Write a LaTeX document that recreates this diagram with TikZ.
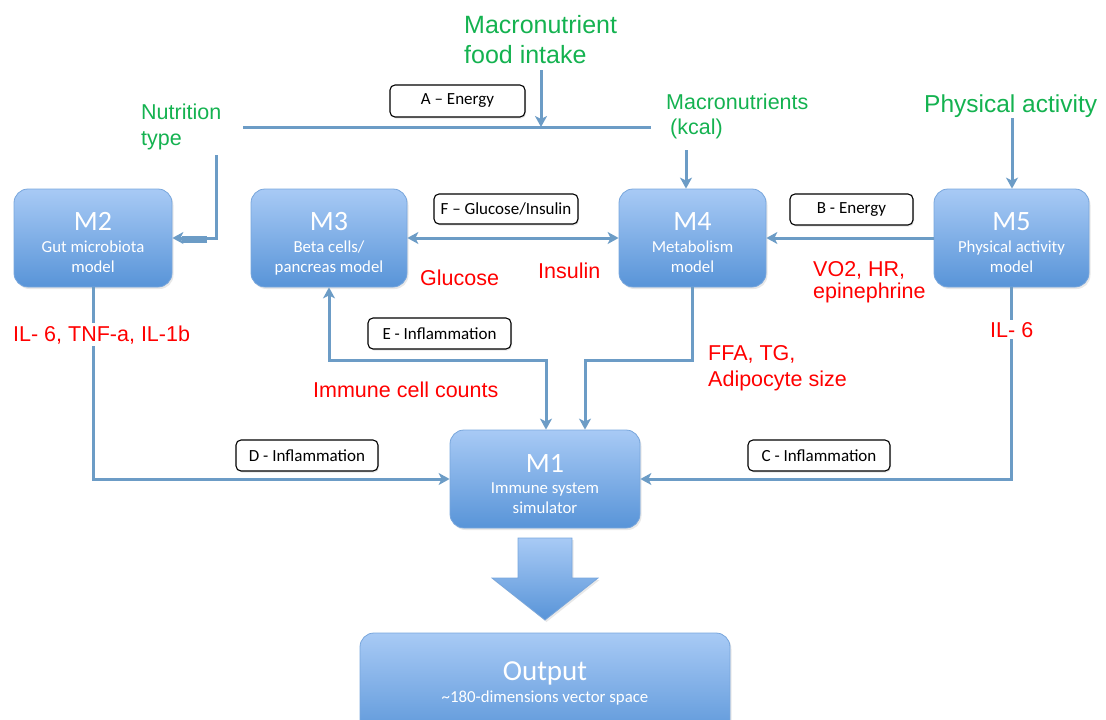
\documentclass[tikz,border=0pt]{standalone}
\usepackage{fontspec}
\setmainfont{Liberation Sans}
\newfontfamily\calfont{Carlito}
\usetikzlibrary{arrows.meta,shadows}
\definecolor{boxtop}{RGB}{168,202,245}
\definecolor{boxbot}{RGB}{88,148,216}
\definecolor{boxedge}{RGB}{120,166,220}
\definecolor{conn}{RGB}{108,156,198}
\definecolor{grn}{RGB}{20,178,80}
\definecolor{rd}{RGB}{255,0,0}
\begin{document}
\begin{tikzpicture}[x=1pt,y=-1pt,
  mbox/.style={rounded corners=14pt, top color=boxtop, bottom color=boxbot, draw=boxedge, line width=0.8pt, inner sep=0pt,
    drop shadow={opacity=0.18, shadow xshift=1.5pt, shadow yshift=-2pt}},
  ttl/.style={text=white, font=\calfont\fontsize{28}{30}\selectfont, inner sep=0pt, anchor=base},
  sub/.style={text=white, font=\calfont\fontsize{16.8}{20}\selectfont, inner sep=0pt, anchor=base},
  lbl/.style={draw=black, fill=white, rounded corners=5pt, line width=1.1pt, inner sep=0pt,
    font=\calfont\fontsize{17}{20}\selectfont,
    drop shadow={opacity=0.2, shadow xshift=1pt, shadow yshift=-1.5pt}},
  gtxt/.style={text=grn, inner sep=0pt, anchor=base west, font=\fontsize{21.5}{26}\selectfont},
  rtxt/.style={text=rd, fill=white, inner xsep=1pt, inner ysep=2pt, anchor=base west, font=\fontsize{21.5}{26}\selectfont},
  wire/.style={draw=conn, line width=3pt},
  arr/.style={wire, -{Stealth[length=11pt,width=12pt,inset=3pt]}},
  darr/.style={wire, {Stealth[length=11pt,width=12pt,inset=3pt]}-{Stealth[length=11pt,width=12pt,inset=3pt]}}
]
\useasboundingbox (0,0) rectangle (1106,720);
\clip (0,0) rectangle (1106,720);

% model boxes
\node[mbox, minimum width=158pt, minimum height=98pt] (m2) at (93,238) {};
\node[mbox, minimum width=156pt, minimum height=98pt] (m3) at (329,238) {};
\node[mbox, minimum width=147pt, minimum height=98pt] (m4) at (692.5,238) {};
\node[mbox, minimum width=155pt, minimum height=98pt] (m5) at (1011.5,238) {};
\node[mbox, minimum width=190pt, minimum height=98pt] (m1) at (545,479) {};
\node[mbox, minimum width=370pt, minimum height=110pt] (out) at (545,688) {};

\node[ttl] (m2t) at (93,230) {M2};
\node[sub] (m2a) at (93,252) {Gut microbiota};
\node[sub] (m2b) at (93,272) {model};
\node[ttl] (m3t) at (329,230) {M3};
\node[sub] (m3a) at (329,252) {Beta cells/};
\node[sub] (m3b) at (329,272) {pancreas model};
\node[ttl] (m4t) at (692.5,230) {M4};
\node[sub] (m4a) at (692.5,252) {Metabolism};
\node[sub] (m4b) at (692.5,272) {model};
\node[ttl] (m5t) at (1011.5,230) {M5};
\node[sub] (m5a) at (1011.5,252) {Physical activity};
\node[sub] (m5b) at (1011.5,272) {model};
\node[ttl] (m1t) at (545,472) {M1};
\node[sub] (m1a) at (545,493) {Immune system};
\node[sub] (m1b) at (545,513) {simulator};
\node[ttl, font=\calfont\fontsize{29}{32}\selectfont] (outt) at (545,680) {Output};
\node[sub] (outa) at (545,702) {\textasciitilde180-dimensions vector space};

% big arrow
\path[top color=boxtop, bottom color=boxbot, draw=boxedge, line width=0.8pt,
  drop shadow={opacity=0.18, shadow xshift=1.5pt, shadow yshift=-2pt}]
  (518,538) -- (572,538) -- (572,578) -- (598,578) -- (545,620) -- (492,578) -- (518,578) -- cycle;

% green inputs
\node[gtxt, font=\fontsize{25}{30}\selectfont] (food1) at (464,33) {Macronutrient};
\node[gtxt, font=\fontsize{25}{30}\selectfont] (food2) at (464,63) {food intake};
\node[gtxt] (nut1) at (141,119) {Nutrition};
\node[gtxt] (nut2) at (141,145) {type};
\node[gtxt] (mac1) at (666,109) {Macronutrients};
\node[gtxt] (mac2) at (670,134) {(kcal)};
\node[gtxt, font=\fontsize{24.5}{29}\selectfont] (phys) at (924,112) {Physical activity};

% connectors
\coordinate (aL) at (243,127);
\coordinate (aR) at (651,127);
\coordinate (aF) at (541,127);
\coordinate (fs) at (541,70);
\draw[wire] (aL) -- (aR);
\draw[arr] (fs) -- (aF);

\coordinate (nt) at (216,155);
\draw[arr] (nt) |- (m2.east);
\draw[draw=conn, line width=7pt] (207,239.5) -- (182,239.5);

\coordinate (mk) at (686,150);
\draw[arr] (mk) -- (mk |- m4.north);
\coordinate (pa) at (1012,118);
\draw[arr] (pa) -- (pa |- m5.north);

\draw[darr] (m3.east) -- (m4.west);
\draw[arr] (m5.west) -- (m4.east);

\draw[arr] (m2.south) |- (m1.west);
\draw[arr] (m5.south) |- (m1.east);

\coordinate (ej) at (546,360);
\draw[darr] (m3.south) |- (ej) -- (m1.north -| ej);
\coordinate (fj) at (585,360);
\draw[arr] (m4.south) |- (fj) -- (m1.north -| fj);

% red labels
\node[rtxt] (glu) at (419,285) {Glucose};
\node[rtxt] (ins) at (537,278) {Insulin};
\node[rtxt] (vo1) at (812,276) {VO2, HR,};
\node[rtxt] (vo2) at (812,298) {epinephrine};
\node[rtxt] (il1) at (12,341) {IL- 6, TNF-a, IL-1b};
\node[rtxt] (il2) at (989,337) {IL- 6};
\node[rtxt] (imm) at (312,397) {Immune cell counts};
\node[rtxt] (ffa1) at (707,360) {FFA, TG,};
\node[rtxt] (ffa2) at (707,386) {Adipocyte size};

% connector labels
\node[lbl, minimum width=135pt, minimum height=32pt] (la) at (457.5,101) {A – Energy};
\node[lbl, minimum width=144pt, minimum height=30pt] (lf) at (506,209) {F – Glucose/Insulin};
\node[lbl, minimum width=123pt, minimum height=31pt] (lb) at (851.5,209.5) {B - Energy};
\node[lbl, minimum width=143pt, minimum height=31pt] (le) at (439.5,333.5) {E - Inflammation};
\node[lbl, minimum width=142pt, minimum height=31pt] (ld) at (307,455.5) {D - Inflammation};
\node[lbl, minimum width=142pt, minimum height=31pt] (lc) at (819,455.5) {C - Inflammation};
\end{tikzpicture}
\end{document}
